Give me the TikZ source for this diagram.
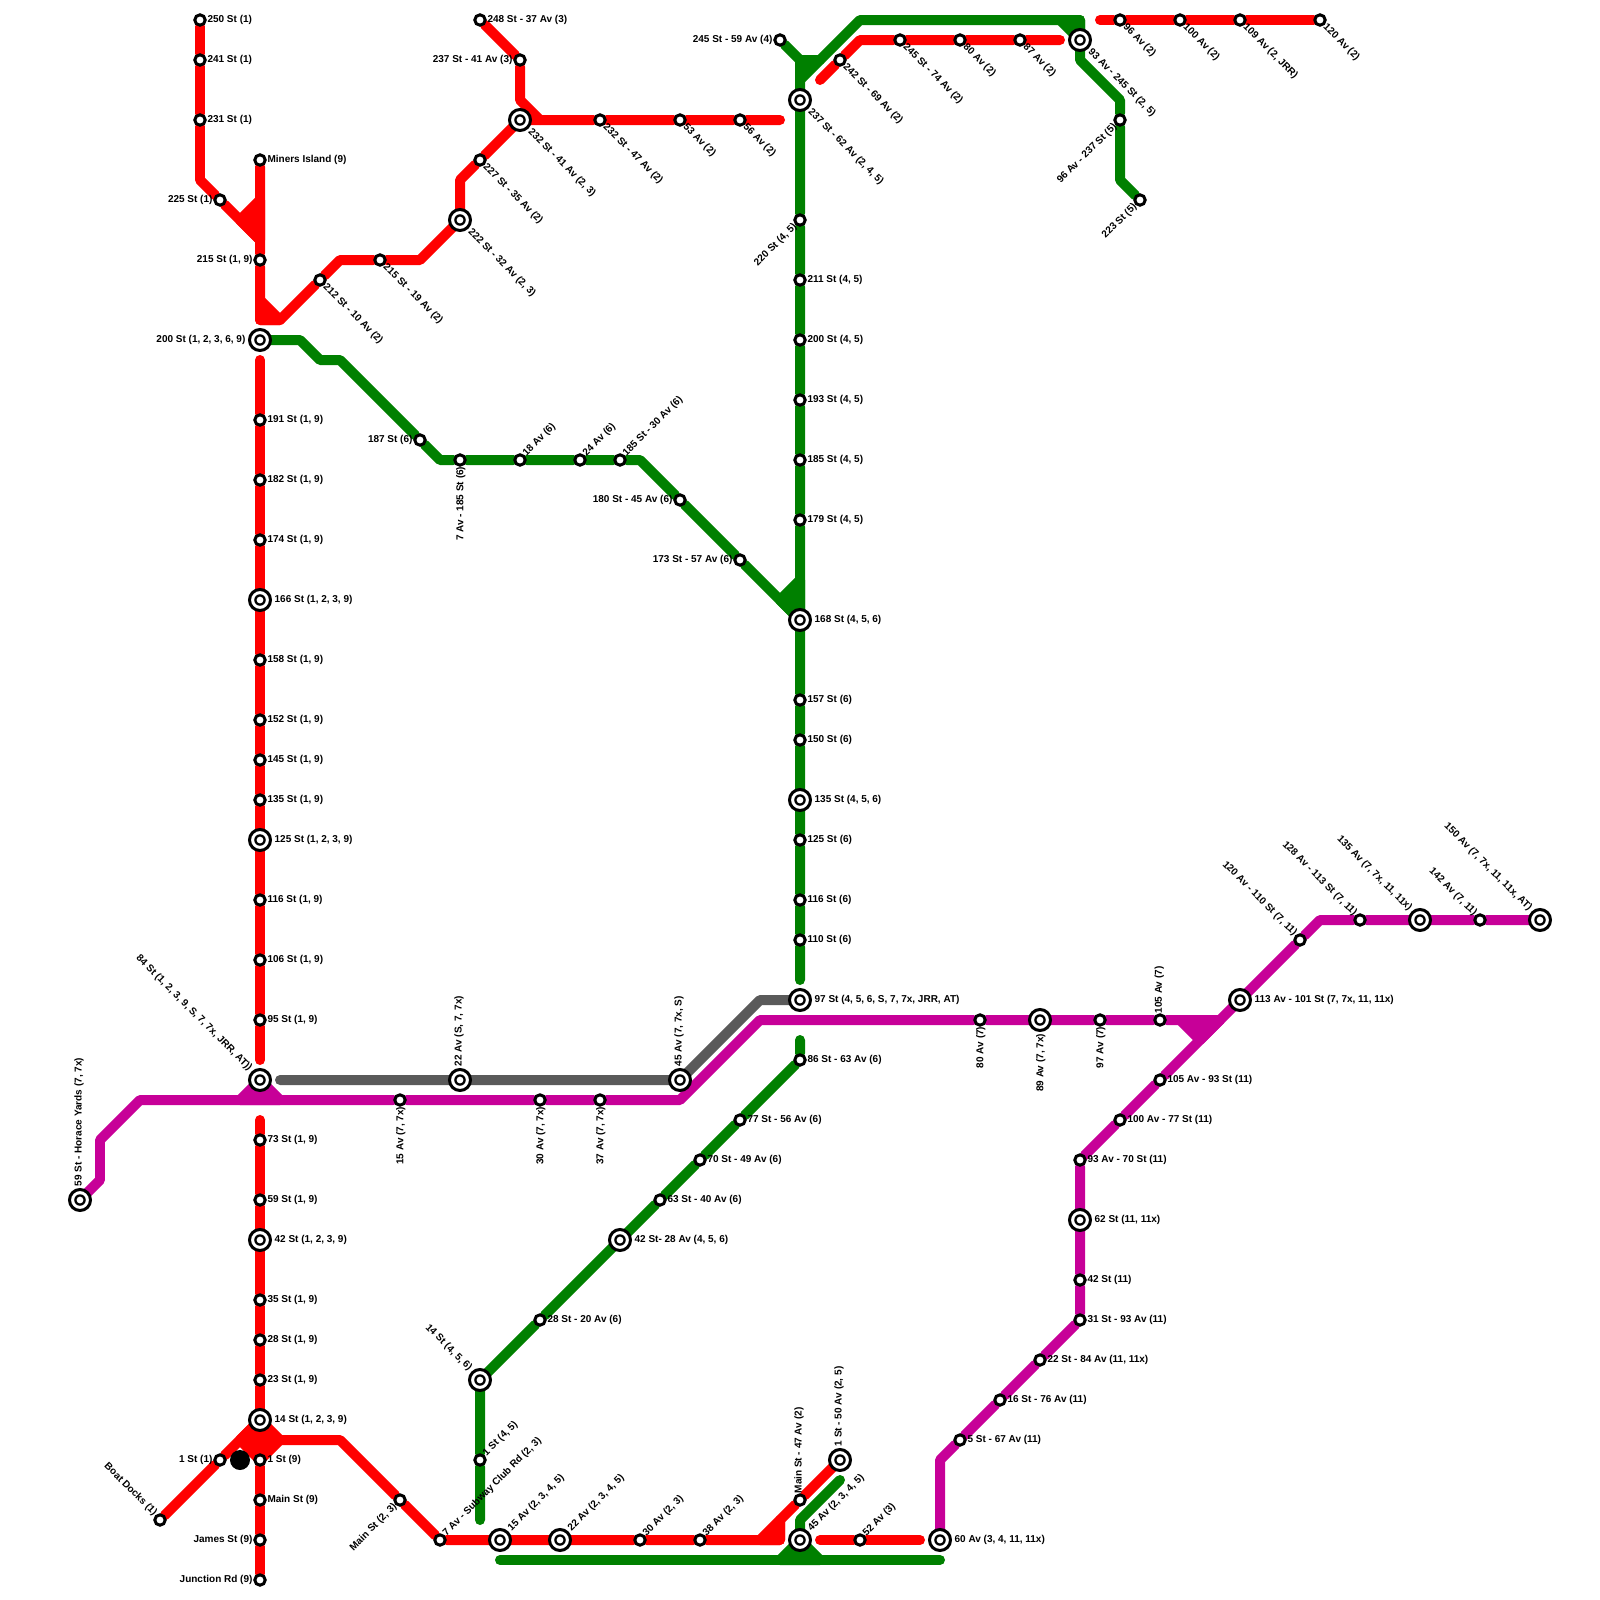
\documentclass[tikz,border=0pt]{standalone}
\usepackage{fontspec}
\setmainfont{Liberation Sans}
\usepackage{tikz}
\usetikzlibrary{backgrounds}
\definecolor{metrored}{RGB}{255,0,0}
\definecolor{metrogreen}{RGB}{0,128,0}
\definecolor{metropurple}{RGB}{199,0,152}
\definecolor{metrogray}{RGB}{90,90,90}
\tikzset{
    stn/.style={circle, draw=black, line width=2.13pt, fill=white, minimum size=7.4pt, inner sep=0pt},
    hub/.style={stn, minimum size=14.94pt, outer sep=2.35pt, path picture={
        \fill[black] (path picture bounding box.center) circle (4.1pt);
        \fill[white] (path picture bounding box.center) circle (2.4pt);}},
    dot/.style={circle, fill=black, minimum size=14.23pt, inner sep=0pt},
    lbl/.style={font=\fontsize{7.11}{8.5}\selectfont\bfseries, inner sep=0pt, outer sep=0pt},
    tE/.style={label={[lbl]right:#1}},
    tW/.style={label={[lbl]left:#1}},
    tN/.style={label={[lbl,rotate=90,anchor=west]90:#1}},
    tS/.style={label={[lbl,rotate=90,anchor=east]270:#1}},
    tNE/.style={label={[lbl,rotate=45,anchor=west]45:#1}},
    tSW/.style={label={[lbl,rotate=45,anchor=east]225:#1}},
    tSE/.style={label={[lbl,rotate=-45,anchor=west]-45:#1}},
    tNW/.style={label={[lbl,rotate=-45,anchor=east]135:#1}},
    metro/.style={line width=7.11pt, line cap=round, line join=round},
    redln/.style={metro, draw=metrored},
    greenln/.style={metro, draw=metrogreen},
    purpleln/.style={metro, draw=metropurple},
    grayln/.style={metro, draw=metrogray},
}
\begin{document}
\begin{tikzpicture}[x=0.5cm, y=-0.5cm, label distance=0.6pt]
    \useasboundingbox (0,0) rectangle (80,80);

    % north west red
    \node[stn, tE={250 St (1)}] (st250) at (10,1) {};
    \node[stn, tE={241 St (1)}] (st241) at (10,3) {};
    \node[stn, tE={231 St (1)}] (st231) at (10,6) {};
    \node[stn, tW={225 St (1)}] (st225) at (11,10) {};
    \node[stn, tE={Miners Island (9)}] (stMiners) at (13,8) {};
    \node[stn, tW={215 St (1, 9)}] (st215) at (13,13) {};
    \node[hub, tW={200 St (1, 2, 3, 6, 9)}] (st200) at (13,17) {};
    \node[stn, tSE={212 St - 10 Av (2)}] (st212b) at (16,14) {};
    \node[stn, tSE={215 St - 19 Av (2)}] (st215b) at (19,13) {};
    \node[hub, tSE={222 St - 32 Av (2, 3)}] (st222b) at (23,11) {};
    \node[stn, tSE={227 St - 35 Av (2)}] (st227b) at (24,8) {};
    \node[hub, tSE={232 St - 41 Av (2, 3)}] (st232b) at (26,6) {};
    \node[stn, tE={248 St - 37 Av (3)}] (st248c) at (24,1) {};
    \node[stn, tW={237 St - 41 Av (3)}] (st237c) at (26,3) {};
    \node[stn, tSE={232 St - 47 Av (2)}] (st232c) at (30,6) {};
    \node[stn, tSE={53 Av (2)}] (av53) at (34,6) {};
    \node[stn, tSE={56 Av (2)}] (av56) at (37,6) {};

    % long red trunk
    \node[stn, tE={191 St (1, 9)}] (st191) at (13,21) {};
    \node[stn, tE={182 St (1, 9)}] (st182) at (13,24) {};
    \node[stn, tE={174 St (1, 9)}] (st174) at (13,27) {};
    \node[hub, tE={166 St (1, 2, 3, 9)}] (st166) at (13,30) {};
    \node[stn, tE={158 St (1, 9)}] (st158) at (13,33) {};
    \node[stn, tE={152 St (1, 9)}] (st152) at (13,36) {};
    \node[stn, tE={145 St (1, 9)}] (st145) at (13,38) {};
    \node[stn, tE={135 St (1, 9)}] (st135) at (13,40) {};
    \node[hub, tE={125 St (1, 2, 3, 9)}] (st125) at (13,42) {};
    \node[stn, tE={116 St (1, 9)}] (st116) at (13,45) {};
    \node[stn, tE={106 St (1, 9)}] (st106) at (13,48) {};
    \node[stn, tE={95 St (1, 9)}] (st95) at (13,51) {};
    \node[hub, tNW={84 St (1, 2, 3, 9, S, 7, 7x, JRR, AT))}] (st84) at (13,54) {};
    \node[stn, tE={73 St (1, 9)}] (st73) at (13,57) {};
    \node[stn, tE={59 St (1, 9)}] (st59) at (13,60) {};
    \node[hub, tE={42 St (1, 2, 3, 9)}] (st42) at (13,62) {};
    \node[stn, tE={35 St (1, 9)}] (st35) at (13,65) {};
    \node[stn, tE={28 St (1, 9)}] (st28) at (13,67) {};
    \node[stn, tE={23 St (1, 9)}] (st23) at (13,69) {};
    \node[hub, tE={14 St (1, 2, 3, 9)}] (st14) at (13,71) {};
    \node[stn, tE={1 St (9)}] (st1n) at (13,73) {};
    \node[stn, tE={Main St (9)}] (stMain) at (13,75) {};
    \node[stn, tW={James St (9)}] (stJames) at (13,77) {};
    \node[stn, tW={Junction Rd (9)}] (stJunction) at (13,79) {};
    \node[stn, tW={1 St (1)}] (st1o) at (11,73) {};
    \node[stn, tNW={Boat Docks (1)}] (stBoat) at (8,76) {};
    \node[dot] (blackdot) at (12,73) {};

    % south red
    \node[stn, tSW={Main St (2, 3)}] (stMainb) at (20,75) {};
    \node[stn, tNE={7 Av - Subway Club Rd (2, 3)}] (av7b) at (22,77) {};
    \node[hub, tNE={15 Av (2, 3, 4, 5)}] (av15b) at (25,77) {};
    \node[hub, tNE={22 Av (2, 3, 4, 5)}] (av22b) at (28,77) {};
    \node[stn, tNE={30 Av (2, 3)}] (av30b) at (32,77) {};
    \node[stn, tNE={38 Av (2, 3)}] (av38b) at (35,77) {};
    \node[hub, tNE={45 Av (2, 3, 4, 5)}] (av45b) at (40,77) {};
    \node[stn, tN={Main St - 47 Av (2)}] (stMain47) at (40,75) {};
    \node[hub, tN={1 St - 50 Av (2, 5)}] (st1t) at (42,73) {};
    \node[stn, tNE={52 Av (3)}] (av52) at (43,77) {};
    \node[hub, tE={60 Av (3, 4, 11, 11x)}] (av60) at (47,77) {};

    % north east
    \node[stn, tW={245 St - 59 Av (4)}] (st245d) at (39,2) {};
    \node[hub, tSE={237 St - 62 Av (2, 4, 5)}] (st237b) at (40,5) {};
    \node[stn, tSE={242 St - 69 Av (2)}] (st242b) at (42,3) {};
    \node[stn, tSE={245 St - 74 Av (2)}] (st245b) at (45,2) {};
    \node[stn, tSE={80 Av (2)}] (av80b) at (48,2) {};
    \node[stn, tSE={87 Av (2)}] (av87b) at (51,2) {};
    \node[hub, tSE={93 Av - 245 St (2, 5)}] (av93b) at (54,2) {};
    \node[stn, tSW={96 Av - 237 St (5)}] (av96e) at (56,6) {};
    \node[stn, tSW={223 St (5)}] (st223) at (57,10) {};
    \node[stn, tSE={96 Av (2)}] (av96b) at (56,1) {};
    \node[stn, tSE={100 Av (2)}] (av100b) at (59,1) {};
    \node[stn, tSE={109 Av (2, JRR)}] (av109b) at (62,1) {};
    \node[stn, tSE={120 Av (2)}] (av120b) at (66,1) {};

    % green trunk
    \node[stn, tSW={220 St (4, 5)}] (st220) at (40,11) {};
    \node[stn, tE={211 St (4, 5)}] (st211) at (40,14) {};
    \node[stn, tE={200 St (4, 5)}] (st200d) at (40,17) {};
    \node[stn, tE={193 St (4, 5)}] (st193) at (40,20) {};
    \node[stn, tE={185 St (4, 5)}] (st185) at (40,23) {};
    \node[stn, tE={179 St (4, 5)}] (st179) at (40,26) {};
    \node[hub, tE={168 St (4, 5, 6)}] (st168) at (40,31) {};
    \node[stn, tE={157 St (6)}] (st157) at (40,35) {};
    \node[stn, tE={150 St (6)}] (st150) at (40,37) {};
    \node[hub, tE={135 St (4, 5, 6)}] (st135d) at (40,40) {};
    \node[stn, tE={125 St (6)}] (st125f) at (40,42) {};
    \node[stn, tE={116 St (6)}] (st116f) at (40,45) {};
    \node[stn, tE={110 St (6)}] (st110) at (40,47) {};
    \node[hub, tE={97 St (4, 5, 6, S, 7, 7x, JRR, AT)}] (st97) at (40,50) {};

    % green middle
    \node[stn, tW={187 St (6)}] (st187) at (21,22) {};
    \node[stn, tS={7 Av - 185 St (6)}] (av7f) at (23,23) {};
    \node[stn, tNE={18 Av (6)}] (av18) at (26,23) {};
    \node[stn, tNE={24 Av (6)}] (av24) at (29,23) {};
    \node[stn, tNE={185 St - 30 Av (6)}] (st185f) at (31,23) {};
    \node[stn, tW={180 St - 45 Av (6)}] (st180) at (34,25) {};
    \node[stn, tW={173 St - 57 Av (6)}] (st173) at (37,28) {};

    % green south
    \node[stn, tE={86 St - 63 Av (6)}] (st86) at (40,53) {};
    \node[stn, tE={77 St - 56 Av (6)}] (st77) at (37,56) {};
    \node[stn, tE={70 St - 49 Av (6)}] (st70) at (35,58) {};
    \node[stn, tE={63 St - 40 Av (6)}] (st63) at (33,60) {};
    \node[hub, tE={42 St- 28 Av (4, 5, 6)}] (st42d) at (31,62) {};
    \node[stn, tE={28 St - 20 Av (6)}] (st28f) at (27,66) {};
    \node[hub, tNW={14 St (4, 5, 6)}] (st14d) at (24,69) {};
    \node[stn, tNE={1 St (4, 5)}] (st1d) at (24,73) {};

    % purple
    \node[hub, tN={59 St - Horace Yards (7, 7x)}] (st59p) at (4,60) {};
    \node[stn, tS={15 Av (7, 7x)}] (av15p) at (20,55) {};
    \node[hub, tN={22 Av (S, 7, 7x)}] (av22p) at (23,54) {};
    \node[stn, tS={30 Av (7, 7x)}] (av30p) at (27,55) {};
    \node[stn, tS={37 Av (7, 7x)}] (av37p) at (30,55) {};
    \node[hub, tN={45 Av (7, 7x, S)}] (av45p) at (34,54) {};
    \node[stn, tS={80 Av (7)}] (av80p) at (49,51) {};
    \node[hub, tS={89 Av (7, 7x)}] (av89p) at (52,51) {};
    \node[stn, tS={97 Av (7)}] (av97p) at (55,51) {};
    \node[stn, tN={105 Av (7)}] (av105p) at (58,51) {};
    \node[hub, tE={113 Av - 101 St (7, 7x, 11, 11x)}] (av113) at (62,50) {};
    \node[stn, tE={105 Av - 93 St (11)}] (av105e) at (58,54) {};
    \node[stn, tE={100 Av - 77 St (11)}] (av100e) at (56,56) {};
    \node[stn, tE={93 Av - 70 St (11)}] (av93e) at (54,58) {};
    \node[hub, tE={62 St (11, 11x)}] (st62) at (54,61) {};
    \node[stn, tE={42 St (11)}] (st42e) at (54,64) {};
    \node[stn, tE={31 St - 93 Av (11)}] (st31) at (54,66) {};
    \node[stn, tE={22 St - 84 Av (11, 11x)}] (st22) at (52,68) {};
    \node[stn, tE={16 St - 76 Av (11)}] (st16) at (50,70) {};
    \node[stn, tE={5 St - 67 Av (11)}] (st5) at (48,72) {};
    \node[stn, tNW={120 Av - 110 St (7, 11)}] (av120p) at (65,47) {};
    \node[stn, tNW={128 Av - 113 St (7, 11)}] (av128) at (68,46) {};
    \node[hub, tNW={135 Av (7, 7x, 11, 11x)}] (av135) at (71,46) {};
    \node[stn, tNW={142 Av (7, 11)}] (av142) at (74,46) {};
    \node[hub, tNW={150 Av (7, 7x, 11, 11x, AT)}] (av150) at (77,46) {};

    % bends and free ends
    \coordinate (rA) at (10,9);
    \coordinate (rB) at (13,12);
    \coordinate (rC) at (13,16);
    \coordinate (rD) at (14,16);
    \coordinate (rE) at (17,13);
    \coordinate (rF) at (21,13);
    \coordinate (rG) at (23,9);
    \coordinate (rH) at (26,5);
    \coordinate (rI) at (27,6);
    \coordinate (rJ) at (39,6);
    \coordinate (rK) at (41,4);
    \coordinate (rL) at (43,2);
    \coordinate (rM) at (53,2);
    \coordinate (rN) at (55,1);
    \coordinate (rO) at (13,18);
    \coordinate (rP) at (13,53);
    \coordinate (rQ) at (13,56);
    \coordinate (rR) at (14,72);
    \coordinate (rS) at (17,72);
    \coordinate (rT) at (39,77);
    \coordinate (rU) at (39,76);
    \coordinate (rV) at (41,77);
    \coordinate (rW) at (46,77);
    \coordinate (gA) at (40,3);
    \coordinate (gB) at (41,3);
    \coordinate (gC) at (43,1);
    \coordinate (gD) at (54,1);
    \coordinate (gE) at (54,3);
    \coordinate (gF) at (56,5);
    \coordinate (gG) at (56,9);
    \coordinate (gH) at (40,49);
    \coordinate (gI) at (15,17);
    \coordinate (gJ) at (16,18);
    \coordinate (gK) at (17,18);
    \coordinate (gL) at (22,23);
    \coordinate (gM) at (32,23);
    \coordinate (gN) at (40,52);
    \coordinate (gO) at (24,76);
    \coordinate (gP) at (25,78);
    \coordinate (gQ) at (47,78);
    \coordinate (gR) at (40,76);
    \coordinate (gS) at (42,74);
    \coordinate (kA) at (14,54);
    \coordinate (kB) at (38,50);
    \coordinate (pA) at (5,59);
    \coordinate (pB) at (5,57);
    \coordinate (pC) at (7,55);
    \coordinate (pD) at (34,55);
    \coordinate (pE) at (38,51);
    \coordinate (pF) at (61,51);
    \coordinate (pG) at (66,46);
    \coordinate (pH) at (47,73);

    \begin{scope}[on background layer]
        \draw[grayln] (kA) -- (av22p.center) -- (av45p.center) -- (kB) -- (st97.center);

        \draw[purpleln] (st59p.center) -- (pA) -- (pB) -- (pC) -- (av15p) -- (av30p) -- (av37p) -- (pD) -- (pE) -- (av80p) -- (av89p.center) -- (av97p) -- (av105p) -- (pF);
        \draw[purpleln] (av93e) -- (av100e) -- (av105e) -- (av113.center) -- (av120p) -- (pG) -- (av128) -- (av135.center) -- (av142) -- (av150.center);
        \draw[purpleln] (av93e) -- (st62.center) -- (st42e) -- (st31) -- (st22) -- (st16) -- (st5) -- (pH) -- (av60.center);
        \filldraw[purpleln, fill=metropurple] (12,55) -- (13,54) -- (14,55) -- cycle;
        \filldraw[purpleln, fill=metropurple] (59,51) -- (61,51) -- (60,52) -- cycle;

        \draw[greenln] (st245d) -- (gA) -- (st237b.center) -- (st220) -- (st211) -- (st200d) -- (st193) -- (st185) -- (st179) -- (st168.center) -- (st157) -- (st150) -- (st135d.center) -- (st125f) -- (st116f) -- (st110) -- (gH);
        \draw[greenln] (gA) -- (gB) -- (gC) -- (gD) -- (av93b.center) -- (gE) -- (gF) -- (av96e) -- (gG) -- (st223);
        \filldraw[greenln, fill=metrogreen] (40,3) -- (41,3) -- (40,4) -- cycle;
        \filldraw[greenln, fill=metrogreen] (53,1) -- (54,1) -- (54,2) -- cycle;
        \draw[greenln] (st200.center) -- (gI) -- (gJ) -- (gK) -- (st187) -- (gL) -- (av7f) -- (av18) -- (av24) -- (st185f) -- (gM) -- (st180) -- (st173) -- (st168.center);
        \filldraw[greenln, fill=metrogreen] (40,29) -- (39,30) -- (40,31) -- cycle;
        \draw[greenln] (gN) -- (st86) -- (st77) -- (st70) -- (st63) -- (st42d.center) -- (st28f) -- (st14d.center) -- (st1d) -- (gO);
        \draw[greenln] (gP) -- (gQ);
        \draw[greenln] (av45b.center) -- (gR) -- (gS);
        \filldraw[greenln, fill=metrogreen] (39,78) -- (40,77) -- (41,78) -- cycle;

        \draw[redln] (st250) -- (st241) -- (st231) -- (rA) -- (st225) -- (rB);
        \draw[redln] (stMiners) -- (st215) -- (rC) -- (rD) -- (st212b) -- (rE) -- (st215b) -- (rF) -- (st222b.center) -- (rG) -- (st227b) -- (st232b.center) -- (rI);
        \filldraw[redln, fill=metrored] (13,10) -- (12,11) -- (13,12) -- cycle;
        \filldraw[redln, fill=metrored] (13,15) -- (14,16) -- (13,16) -- cycle;
        \draw[redln] (st248c) -- (st237c) -- (rH) -- (rI) -- (st232c) -- (av53) -- (av56) -- (rJ);
        \draw[redln] (rK) -- (st242b) -- (rL) -- (st245b) -- (av80b) -- (av87b) -- (rM);
        \draw[redln] (rN) -- (av96b) -- (av100b) -- (av109b) -- (av120b);
        \draw[redln] (rO) -- (st191) -- (st182) -- (st174) -- (st166.center) -- (st158) -- (st152) -- (st145) -- (st135) -- (st125.center) -- (st116) -- (st106) -- (st95) -- (rP);
        \draw[redln] (rQ) -- (st73) -- (st59) -- (st42.center) -- (st35) -- (st28) -- (st23) -- (st14.center) -- (st1n) -- (stMain) -- (stJames) -- (stJunction);
        \draw[redln] (stBoat) -- (st1o) -- (st14.center);
        \filldraw[redln, fill=metrored] (13,71) -- (12,72) -- (13,73) -- (14,72) -- cycle;
        \draw[redln] (rR) -- (rS) -- (stMainb) -- (av7b) -- (av15b.center) -- (av22b.center) -- (av30b) -- (av38b) -- (rT) -- (rU) -- (stMain47) -- (st1t.center);
        \filldraw[redln, fill=metrored] (38,77) -- (39,76) -- (39,77) -- cycle;
        \draw[redln] (rV) -- (av52) -- (rW);
    \end{scope}
\end{tikzpicture}
\end{document}
